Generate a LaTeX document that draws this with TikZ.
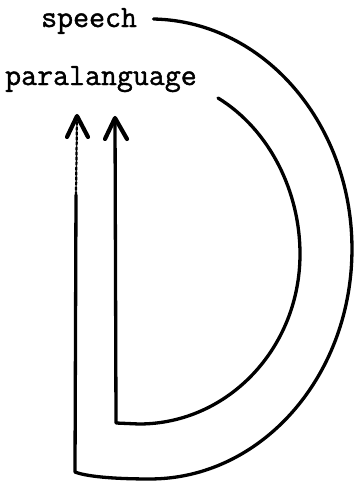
\documentclass[tikz,border=0pt]{standalone}
\usepackage{fontspec}
\newfontfamily\twfont{Latin Modern Mono}[FakeBold=1.3]
\begin{document}
\begin{tikzpicture}[x=1pt,y=-1pt, line join=round, line cap=round,
  lbl/.style={inner sep=0pt, font=\fontsize{31}{31}\selectfont\twfont},
  stroke/.style={line width=3.3pt},
  head/.style={line width=4.2pt},
  faint/.style={line width=2.2pt, dash pattern=on 3pt off 2pt}]
\useasboundingbox (0,0) rectangle (356,485);
\node[lbl, anchor=base west] (speech) at (41,27) {speech};
\node[lbl, anchor=base west] (para) at (5,85) {paralanguage};
% outer band (speech)
\coordinate (os) at (153.5,19);
\coordinate (oc) at (75,472);
\coordinate (om) at (76,195);
\coordinate (ot) at (77,116);
\draw[stroke] (os) arc[start angle=-89, end angle=90, x radius=202, y radius=230]
  .. controls (110,479) and (85,476) .. (oc) -- (om);
\draw[faint] (om) -- (ot);
\draw[head] (67,137) -- (ot) -- (88,137);
% inner band (paralanguage)
\coordinate (is) at (218,98);
\coordinate (ir) at (300,254);
\coordinate (ib) at (139,424);
\coordinate (ic) at (116,423);
\coordinate (it) at (115,118);
\draw[stroke] (is) .. controls (270,130) and (300,192) .. (ir)
  .. controls (300,348) and (228,424) .. (ib) -- (ic) -- (it);
\draw[head] (105,139) -- (it) -- (127,139);
\end{tikzpicture}
\end{document}
